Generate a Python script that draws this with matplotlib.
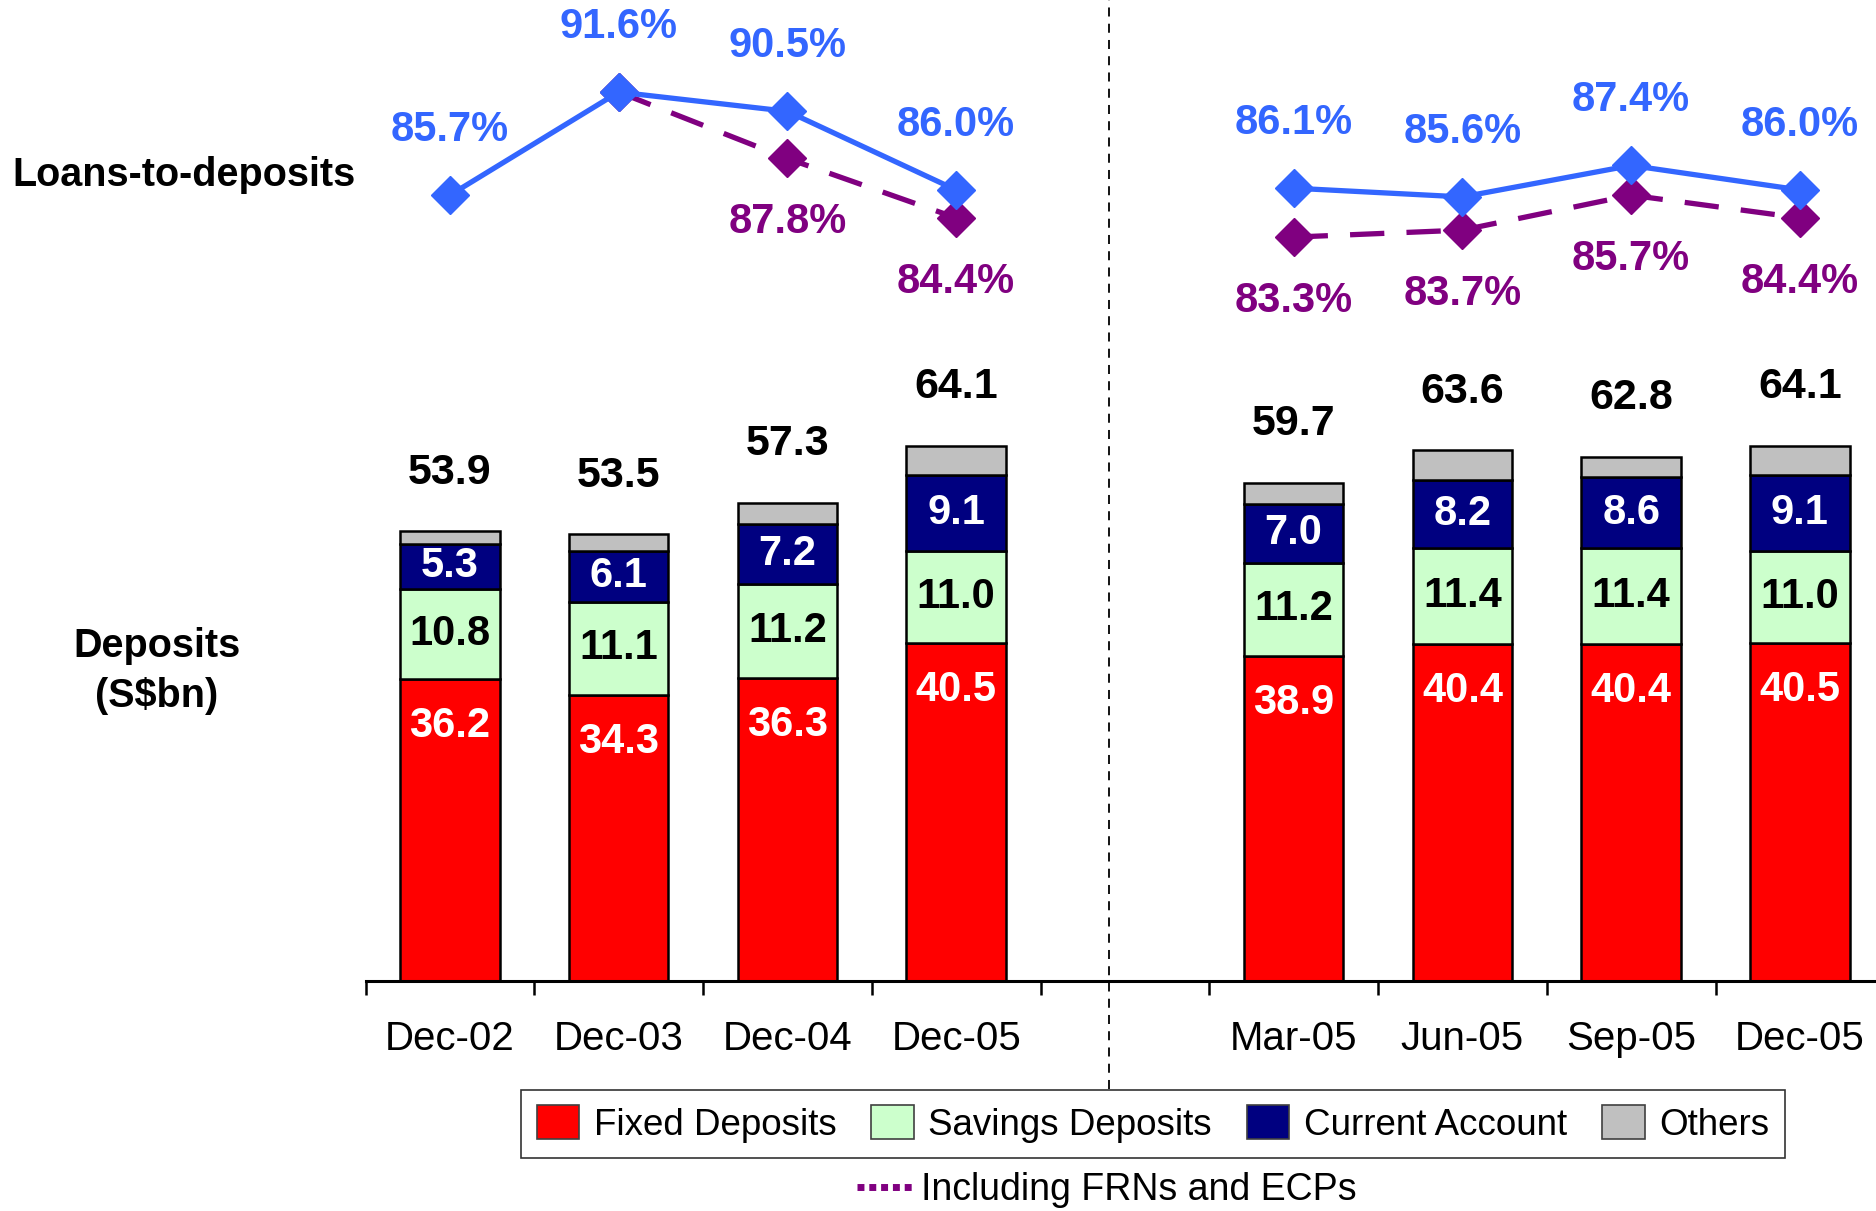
import matplotlib
matplotlib.use("Agg")
import matplotlib.pyplot as plt
import numpy as np
from matplotlib.patches import Patch
from matplotlib.lines import Line2D
from matplotlib.transforms import blended_transform_factory

plt.rcParams['font.family'] = ['Liberation Sans', 'DejaVu Sans']

# ---- data ----
categories = ["Dec-02", "Dec-03", "Dec-04", "Dec-05", "Mar-05", "Jun-05", "Sep-05", "Dec-05"]
positions = [0, 1, 2, 3, 5, 6, 7, 8]
fixed = [36.2, 34.3, 36.3, 40.5, 38.9, 40.4, 40.4, 40.5]
savings = [10.8, 11.1, 11.2, 11.0, 11.2, 11.4, 11.4, 11.0]
current = [5.3, 6.1, 7.2, 9.1, 7.0, 8.2, 8.6, 9.1]
totals = [53.9, 53.5, 57.3, 64.1, 59.7, 63.6, 62.8, 64.1]
others = [round(t - f - s - c, 1) for t, f, s, c in zip(totals, fixed, savings, current)]
ltd = [85.7, 91.6, 90.5, 86.0, 86.1, 85.6, 87.4, 86.0]
ltd_frn = [np.nan, 91.6, 87.8, 84.4, 83.3, 83.7, 85.7, 84.4]
groups = [[0, 1, 2, 3], [4, 5, 6, 7]]

c_fixed = "#FF0000"
c_sav = "#CCFFCC"
c_cur = "#000080"
c_oth = "#C0C0C0"
c_blue = "#3366FF"
c_purple = "#800080"

W, H = 1876, 1211
fig = plt.figure(figsize=(W / 100, H / 100), dpi=100)

# bar axes
x0 = 365.5 / W
x1 = (365.5 + 9 * 168.75) / W
base = 981
ax = fig.add_axes([x0, 1 - base / H, x1 - x0, (80 * 8.35) / H])
ax.set_xlim(-0.5, 8.5)
ax.set_ylim(0, 80)
ax.patch.set_alpha(0)
for s in ["top", "right", "left"]:
    ax.spines[s].set_visible(False)
ax.spines["bottom"].set_linewidth(2.2)
ax.set_yticks([])

bw = 0.59
kw = dict(width=bw, edgecolor="black", linewidth=1.8)
fb = np.array(fixed)
sb = fb + np.array(savings)
cb = sb + np.array(current)
ax.bar(positions, fixed, color=c_fixed, **kw)
ax.bar(positions, savings, bottom=fb, color=c_sav, **kw)
ax.bar(positions, current, bottom=sb, color=c_cur, **kw)
ax.bar(positions, others, bottom=cb, color=c_oth, **kw)

lab_fs = 30
for i, p in enumerate(positions):
    ax.annotate(f"{fixed[i]:.1f}", (p, fixed[i]), xytext=(0, -34), textcoords="offset points",
                ha="center", va="center", color="white", fontsize=lab_fs, fontweight="bold")
    ax.text(p, fb[i] + savings[i] / 2, f"{savings[i]:.1f}", ha="center", va="center",
            color="black", fontsize=lab_fs, fontweight="bold")
    ax.text(p, sb[i] + current[i] / 2, f"{current[i]:.1f}", ha="center", va="center",
            color="white", fontsize=lab_fs, fontweight="bold")
    ax.annotate(f"{totals[i]:.1f}", (p, totals[i]), xytext=(0, 42), textcoords="offset points",
                ha="center", va="center", color="black", fontsize=31, fontweight="bold")

# ticks
ax.set_xticks(np.arange(-0.5, 9.0, 1.0))
ax.set_xticklabels([])
ax.tick_params(axis="x", which="major", length=10, width=1.8, direction="out")
ax.set_xticks(positions, minor=True)
ax.set_xticklabels(categories, minor=True)
ax.tick_params(axis="x", which="minor", length=0, pad=28, labelsize=29)

# line axes
top_px = 92.1 - (95 - 91.6) * 17.47
bot_px = 92.1 + (91.6 - 75) * 17.47
lax = fig.add_axes([x0, 1 - bot_px / H, x1 - x0, (bot_px - top_px) / H])
lax.set_xlim(-0.5, 8.5)
lax.set_ylim(75, 95)
lax.axis("off")
for g in groups:
    px = [positions[i] for i in g]
    lax.plot(px, [ltd_frn[i] for i in g], color=c_purple, lw=3.8, ls=(0, (6.5, 4.2)),
             marker="D", markersize=19, zorder=2)
    lax.plot(px, [ltd[i] for i in g], color=c_blue, lw=3.8, marker="D", markersize=19, zorder=3)

for i, p in enumerate(positions):
    lax.annotate(f"{ltd[i]:.1f}%", (p, ltd[i]), xytext=(0, 47), textcoords="offset points",
                 ha="center", va="center", color=c_blue, fontsize=lab_fs, fontweight="bold")
    if not np.isnan(ltd_frn[i]) and ltd_frn[i] != ltd[i]:
        lax.annotate(f"{ltd_frn[i]:.1f}%", (p, ltd_frn[i]), xytext=(0, -46), textcoords="offset points",
                     ha="center", va="center", color=c_purple, fontsize=lab_fs, fontweight="bold")

# side labels
fig.text(184 / W, 1 - 175 / H, "Loans-to-deposits", ha="center", va="center",
         fontsize=28.5, fontweight="bold")
fig.text(157 / W, 1 - 671 / H, "Deposits\n(S$bn)", ha="center", va="center",
         fontsize=28.5, fontweight="bold", linespacing=1.4)

# dashed divider
tr = blended_transform_factory(ax.transData, fig.transFigure)
fig.add_artist(Line2D([3.905, 3.905], [1 - 1089 / H, 1.0], transform=tr, color="black",
                      lw=1.3, ls=(0, (5, 4))))

# legends
handles = [Patch(facecolor=c_fixed, edgecolor="#404040", lw=1.2, label="Fixed Deposits"),
           Patch(facecolor=c_sav, edgecolor="#404040", lw=1.2, label="Savings Deposits"),
           Patch(facecolor=c_cur, edgecolor="#404040", lw=1.2, label="Current Account"),
           Patch(facecolor=c_oth, edgecolor="#404040", lw=1.2, label="Others")]
leg = fig.legend(handles=handles, loc="center", bbox_to_anchor=(1153 / W, 1 - 1124 / H),
                 ncol=4, fontsize=26.5, frameon=True, fancybox=False, edgecolor="black",
                 handlelength=1.15, handleheight=1.05, handletextpad=0.4, columnspacing=0.95,
                 borderpad=0.42)
leg.get_frame().set_linewidth(1.2)
h2 = [Line2D([0], [0], color=c_purple, lw=5, ls=(0, (1.0, 0.7)), label="Including FRNs and ECPs")]
fig.legend(handles=h2, loc="center", bbox_to_anchor=(1107 / W, 1 - 1190 / H), fontsize=27,
           frameon=False, handlelength=1.5, handletextpad=0.2, borderpad=0)

fig.savefig("out.png", dpi=100)
